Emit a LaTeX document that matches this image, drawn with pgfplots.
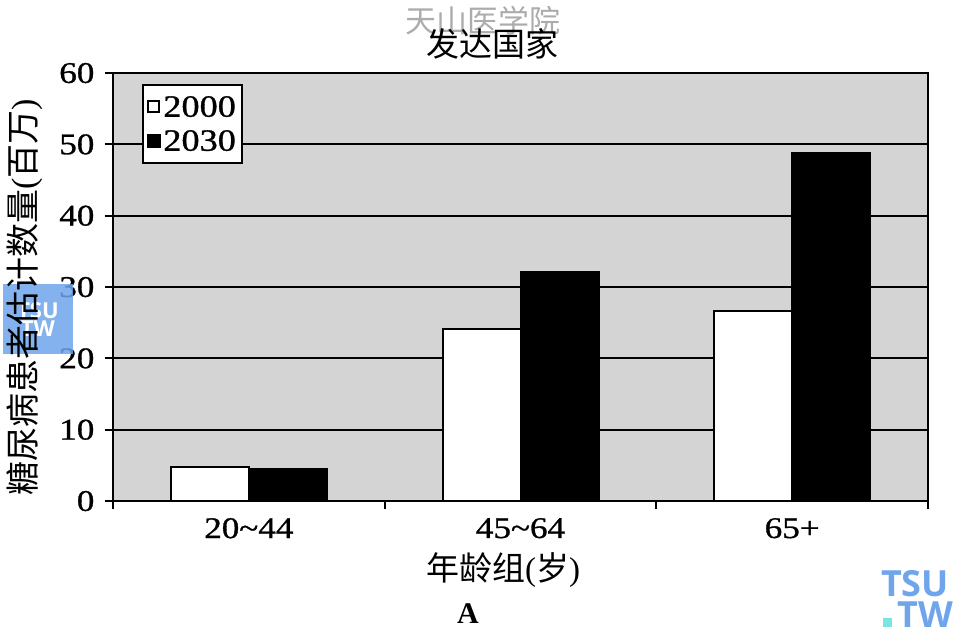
\documentclass[border=0pt]{standalone}
\usepackage{fontspec}
\setmainfont{Liberation Serif}
\newfontfamily\numfont[FakeBold=0.9]{Liberation Serif}
\newfontfamily\cjk{Noto Sans CJK SC}
\newfontfamily\logofont{Open Sans}
\usepackage{pgfplots}
\pgfplotsset{compat=1.18}
\definecolor{plotbg}{RGB}{212,212,212}
\definecolor{logoblue}{RGB}{110,165,235}
\definecolor{logocyan}{RGB}{120,230,225}

\begin{document}
\begin{tikzpicture}
\begin{axis}[
  at={(56.5pt,-249.5pt)}, anchor=south west,
  scale only axis, width=407.5pt, height=214pt,
  xmin=-0.5, xmax=2.5, ymin=0, ymax=60,
  axis background/.style={fill=plotbg},
  axis line style={line width=1pt},
  ybar=0pt, bar width=39pt,
  ytick={0,10,...,60},
  xtick={0,1,2},
  xticklabels={20\textasciitilde44,45\textasciitilde64,65+},
  minor xtick={-0.5,0.5,1.5,2.5},
  major x tick style={draw=none},
  minor x tick style={line width=1pt, black},
  y tick style={line width=1pt, black},
  xtick pos=bottom, ytick pos=left,
  tick align=outside,
  major tick length=4pt, minor tick length=4pt,
  ymajorgrids, major y grid style={line width=1pt, black},
  /pgf/number format/assume math mode=true,
  tick label style={font=\numfont\fontsize{15}{18}\selectfont, xscale=1.17},
  y tick label style={xshift=-1pt},
  x tick label style={yshift=-1pt},
  legend style={at={(rel axis cs:0.0356,0.975)}, anchor=north west,
    draw=black, line width=1pt, fill=white,
    font=\numfont\fontsize{15.5}{17}\selectfont,
    inner xsep=2pt, inner ysep=2.5pt,
    nodes={xscale=1.17, inner xsep=1pt},
    /tikz/every even column/.append style={column sep=0pt},
    legend cell align=left},
]
\addplot[fill=white, draw=black, line width=1pt,
  legend image code/.code={\draw[fill=white,draw=black,line width=0.9pt] (0pt,-2.8pt) rectangle (5.6pt,2.8pt);}]
  coordinates {(0,4.8) (1,24.1) (2,26.7)};
\addplot[fill=black, draw=black, line width=1pt,
  legend image code/.code={\fill[black] (0pt,-3pt) rectangle (6pt,3pt);}]
  coordinates {(0,4.5) (1,32.1) (2,48.8)};
\legend{2000\rule[-6.5pt]{0pt}{18pt},2030\rule[-6.5pt]{0pt}{18pt}}
\end{axis}

\begin{scope}[x=0.5pt, y=-0.5pt]
  % frame of the figure
  \path (0,0) rectangle (963,636);
  % watermark and title
  \node[text=gray!65, font=\cjk\fontsize{15.5}{16}\selectfont] at (483,19) {天山医学院};
  \node[font=\cjk\fontsize{16.5}{18}\selectfont] at (492,42) {发达国家};
  % side logo
  \fill[logoblue, opacity=0.85] (3,282) rectangle (73,352);
  \node[text=white, font=\logofont\bfseries\fontsize{11}{11}\selectfont, align=center] at (38,317) {TSU\\[-2pt]TW};
  % y label
  \node[rotate=90, font=\cjk\fontsize{17}{18}\selectfont] at (25,295) {糖尿病患者估计数量{\rmfamily(}百万{\rmfamily)}};
  % x label and panel letter
  \node[font=\cjk\fontsize{16.5}{18}\selectfont] at (503,568) {年龄组{\rmfamily(}岁{\rmfamily)}};
  \node[font=\bfseries\fontsize{15}{16}\selectfont] at (468,612) {A};
  % corner logo
  \node[text=logoblue, font=\logofont\bfseries\fontsize{18}{18}\selectfont] at (915,582) {TSU};
  \node[text=logoblue, font=\logofont\bfseries\fontsize{18}{18}\selectfont] at (925,613) {TW};
  \fill[logocyan] (883,616) rectangle (892,625);
\end{scope}
\end{tikzpicture}
\end{document}
